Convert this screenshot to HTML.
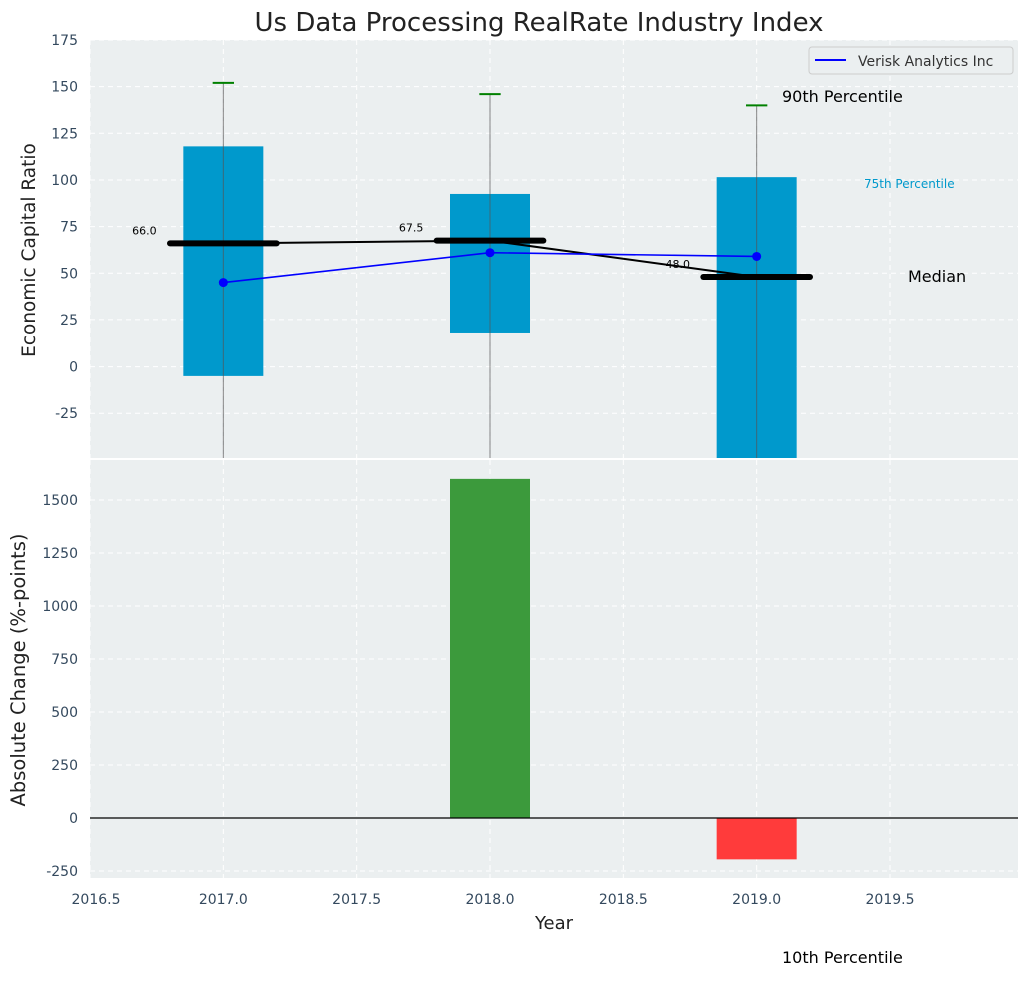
<!DOCTYPE html>
<html><head><meta charset="utf-8"><style>
body{margin:0;background:#fff;font-family:"Liberation Sans","DejaVu Sans",sans-serif}
svg text{font-family:"DejaVu Sans","Liberation Sans",sans-serif}
</style></head><body>
<svg id="c" width="1029" height="976" xmlns="http://www.w3.org/2000/svg"></svg>
<script>
const years=[2017,2018,2019];
const q75=[118,92.5,101.5];
const q25=[-5,18,-60];
const p90=[152,146,140];
const p10=[-120,-120,-120];
const medians=[66,67.5,48];
const company=[45,61,59];
const changes=[null,1600,-195];
const topTicks=[-25,0,25,50,75,100,125,150,175];
const botTicks=[-250,0,250,500,750,1000,1250,1500];
const xTicks=[2016.5,2017,2017.5,2018,2018.5,2019,2019.5];

const svg=document.getElementById('c');const NS='http://www.w3.org/2000/svg';
function el(t,a,p){const e=document.createElementNS(NS,t);for(const k in a)e.setAttribute(k,a[k]);(p||svg).appendChild(e);return e;}
const L=90,R=1018,x0=2016.5,x1=2019.98;
const X=v=>L+(v-x0)/(x1-x0)*(R-L);
const T1=40,B1=458,ymin1=-49,ymax1=175;
const Y1=v=>B1-(v-ymin1)/(ymax1-ymin1)*(B1-T1);
const T2=460,B2=878,ymin2=-283,ymax2=1689;
const Y2=v=>B2-(v-ymin2)/(ymax2-ymin2)*(B2-T2);

let t=el('text',{x:539,y:31,'font-size':26,'text-anchor':'middle',fill:'#222'});t.textContent='Us Data Processing RealRate Industry Index';


const cp1=el('clipPath',{id:'cp1'});el('rect',{x:L,y:T1,width:R-L,height:B1-T1},cp1);
const cp2=el('clipPath',{id:'cp2'});el('rect',{x:L,y:T2,width:R-L,height:B2-T2},cp2);
let p=el('rect',{x:L,y:T1,width:R-L,height:B1-T1,fill:'#ebeff0'});
p=el('rect',{x:L,y:T2,width:R-L,height:B2-T2,fill:'#ebeff0'});

const g1=el('g',{'clip-path':'url(#cp1)'});
const g2=el('g',{'clip-path':'url(#cp2)'});
xTicks.forEach(v=>{el('line',{x1:X(v),x2:X(v),y1:T1,y2:B1,stroke:'#fff','stroke-dasharray':'5,4'},g1);el('line',{x1:X(v),x2:X(v),y1:T2,y2:B2,stroke:'#fff','stroke-dasharray':'5,4'},g2);});
topTicks.forEach(v=>{el('line',{x1:L,x2:R,y1:Y1(v),y2:Y1(v),stroke:'#fff','stroke-dasharray':'5,4'},g1);
 let tt=el('text',{x:L-12,y:Y1(v)+5,'font-size':14,'text-anchor':'end',fill:'#34495e'});tt.textContent=v;});
botTicks.forEach(v=>{el('line',{x1:L,x2:R,y1:Y2(v),y2:Y2(v),stroke:'#fff','stroke-dasharray':'5,4'},g2);
 let tt=el('text',{x:L-12,y:Y2(v)+5,'font-size':14,'text-anchor':'end',fill:'#34495e'});tt.textContent=v;});
xTicks.forEach(v=>{let tt=el('text',{x:Math.max(X(v),96),y:B2+26,'font-size':14,'text-anchor':'middle',fill:'#34495e'});tt.textContent=v.toFixed(1);});

const hw=0.15;
years.forEach((yr,i)=>{
 let b=el('rect',{x:X(yr-hw),y:Y1(q75[i]),width:X(yr+hw)-X(yr-hw),height:Y1(q25[i])-Y1(q75[i]),fill:'#0099cc'},g1);
 
 let w=el('line',{x1:X(yr),x2:X(yr),y1:Y1(p90[i]),y2:Y1(p10[i]),stroke:'#555','stroke-width':1,opacity:0.7},g1);
 
 let c=el('line',{x1:X(yr-0.04),x2:X(yr+0.04),y1:Y1(p90[i]),y2:Y1(p90[i]),stroke:'green','stroke-width':2},g1);
 
});
let pts=years.map((y,i)=>X(y)+','+Y1(medians[i])).join(' ');
let ml=el('polyline',{points:pts,fill:'none',stroke:'#000','stroke-width':2},g1);
years.forEach((yr,i)=>{
 let m=el('line',{x1:X(yr-0.2),x2:X(yr+0.2),y1:Y1(medians[i]),y2:Y1(medians[i]),stroke:'#000','stroke-width':6,'stroke-linecap':'round'},g1);
 
 let lt=el('text',{x:X(yr-0.25),y:Y1(medians[i])-9,'font-size':11,'text-anchor':'end',fill:'#000'});lt.textContent=medians[i].toFixed(1);
 
});
pts=years.map((y,i)=>X(y)+','+Y1(company[i])).join(' ');
let cl=el('polyline',{points:pts,fill:'none',stroke:'blue','stroke-width':1.6},g1);
years.forEach((yr,i)=>{let d=el('circle',{cx:X(yr),cy:Y1(company[i]),r:4.5,fill:'blue'},g1);});

years.forEach((yr,i)=>{if(changes[i]==null)return;const v=changes[i];
 let b=el('rect',{x:X(yr-hw),y:Math.min(Y2(v),Y2(0)),width:X(yr+hw)-X(yr-hw),height:Math.abs(Y2(v)-Y2(0)),fill:v>=0?'#3c9a3c':'#ff3b3b'},g2);
 });
let z=el('line',{x1:L,x2:R,y1:Y2(0),y2:Y2(0),stroke:'#000','stroke-width':1.2},g2);

function txt(x,y,s,size,fill,name,anchor){let e=el('text',{x:x,y:y,'font-size':size,fill:fill,'text-anchor':anchor||'start'});e.textContent=s;return e;}
txt(782,102,'90th Percentile',16,'#000','p90-annotation');
txt(864,188,'75th Percentile',12,'#0099cc','p75-annotation');
txt(908,282,'Median',16,'#000','median-annotation');
txt(782,963,'10th Percentile',16,'#000','p10-annotation');
txt(554,929,'Year',18,'#222','x-axis-title','middle');
let ya=txt(0,0,'Economic Capital Ratio',18.5,'#222','y-axis-title-top','middle');ya.setAttribute('transform','translate(35,250) rotate(-90)');
ya=txt(0,0,'Absolute Change (%-points)',19.5,'#222','y-axis-title-bottom','middle');ya.setAttribute('transform','translate(25,670) rotate(-90)');

const lg=el('g',{});
el('rect',{x:809,y:47,width:204,height:27,rx:3,fill:'#ebeff0',stroke:'#ccc'},lg);
el('line',{x1:815,x2:846,y1:60,y2:60,stroke:'blue','stroke-width':2},lg);
let lt=el('text',{x:858,y:66,'font-size':14,fill:'#333'},lg);lt.textContent='Verisk Analytics Inc';
</script>
</body></html>
